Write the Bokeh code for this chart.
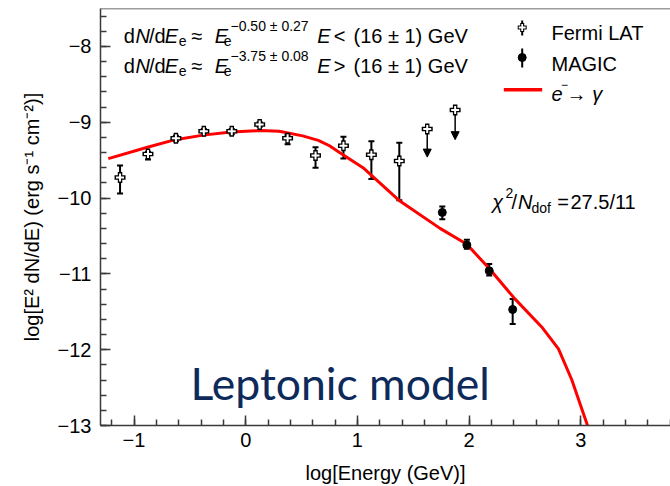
import numpy as np
from bokeh.plotting import figure
from bokeh.models import (ColumnDataSource, Label, Span, Whisker, TeeHead, Arrow,
                          NormalHead, FixedTicker, Range1d, CustomJSTickFormatter)
from bokeh.embed import file_html
from bokeh.resources import INLINE

# ---------------- data ----------------
fermi_x = [-1.125, -0.875, -0.625, -0.375, -0.125, 0.125, 0.375, 0.625, 0.875, 1.125, 1.375]
fermi_y = [-9.73, -9.42, -9.21, -9.12, -9.12, -9.03, -9.21, -9.44, -9.31, -9.43, -9.51]
fermi_lo = [-9.94, -9.49, -9.25, -9.16, -9.16, -9.06, -9.29, -9.60, -9.48, -9.75, -10.03]
fermi_hi = [-9.57, -9.39, -9.18, -9.09, -9.09, -9.00, -9.17, -9.33, -9.19, -9.25, -9.27]

ul_x = [1.625, 1.875]
ul_y = [-9.09, -8.84]
ul_end = [-9.46, -9.23]

magic_x = [1.76, 1.98, 2.18, 2.39]
magic_y = [-10.19, -10.62, -10.96, -11.47]
magic_lo = [-10.28, -10.67, -11.02, -11.66]
magic_hi = [-10.11, -10.55, -10.87, -11.33]

model_x = [-1.23, -0.88, -0.63, -0.38, -0.13, 0.13, 0.30, 0.51, 0.65, 0.75, 0.84, 1.05,
           1.38, 1.74, 1.98, 2.18, 2.41, 2.65, 2.80, 2.92, 3.06, 3.09]
model_y = [-9.48, -9.33, -9.23, -9.17, -9.13, -9.11, -9.12, -9.18, -9.24, -9.31, -9.40, -9.60,
           -10.04, -10.40, -10.61, -10.93, -11.33, -11.70, -11.99, -12.40, -13.0, -13.12]

x_major_ticks = [-1, 0, 1, 2, 3]
y_major_ticks = [-13, -12, -11, -10, -9, -8]

X_RANGE = (-1.3, 3.803)
Y_RANGE = (-13.0, -7.5)

# ---------------- geometry helpers (picture pixel -> data) ----------------
FRAME_LEFT = 100.0
FRAME_TOP = 8.0
FRAME_W = 570.0
FRAME_H = 417.0


def wx(px):
    return X_RANGE[0] + (px - FRAME_LEFT) * (X_RANGE[1] - X_RANGE[0]) / FRAME_W


def wy(py):
    return Y_RANGE[1] - (py - FRAME_TOP) * (Y_RANGE[1] - Y_RANGE[0]) / FRAME_H


FONT = "Liberation Sans"
AXIS_COL = "#3a3a3a"

p = figure(width=670, height=486, x_range=Range1d(*X_RANGE), y_range=Range1d(*Y_RANGE),
           output_backend="svg", toolbar_location=None,
           min_border_left=100, min_border_right=0, min_border_top=8, min_border_bottom=61)
p.grid.visible = False
p.outline_line_color = None
p.background_fill_color = "white"
p.border_fill_color = "white"

fmt = CustomJSTickFormatter(code="return String(tick).replace('-', '\\u2212');")

p.xaxis.ticker = FixedTicker(ticks=x_major_ticks,
                             minor_ticks=[round(-1.2 + 0.2 * i, 2) for i in range(26)])
p.yaxis.ticker = FixedTicker(ticks=y_major_ticks,
                             minor_ticks=[round(-13 + 0.2 * i, 2) for i in range(28)])
for ax in (p.xaxis[0], p.yaxis[0]):
    ax.formatter = fmt
    ax.axis_line_color = AXIS_COL
    ax.axis_line_width = 1.5
    ax.major_tick_line_color = AXIS_COL
    ax.minor_tick_line_color = AXIS_COL
    ax.major_tick_line_width = 1.5
    ax.minor_tick_line_width = 1.5
    ax.major_tick_in = 10
    ax.major_tick_out = 0
    ax.minor_tick_in = 6
    ax.minor_tick_out = 0
    ax.major_label_text_font = FONT
    ax.major_label_text_font_size = "20px"
    ax.major_label_text_color = "black"
    ax.axis_label_text_font = FONT
    ax.axis_label_text_font_size = "20px"
    ax.axis_label_text_font_style = "normal"
    ax.axis_label_text_color = "black"
p.xaxis.major_label_standoff = 7
p.yaxis.major_label_standoff = 9
p.xaxis.axis_label = "log[Energy (GeV)]"
p.xaxis.axis_label_standoff = 12
p.yaxis.axis_label = "log[E\u00b2 dN/dE) (erg s\u207b\u00b9 cm\u207b\u00b2)]"
p.yaxis.axis_label_standoff = 12

p.add_layout(Span(location=Y_RANGE[1], dimension="width", line_color=AXIS_COL, line_width=1.5))

# ---------------- model curve ----------------
p.line(model_x, model_y, line_color="#ff0000", line_width=3)

# ---------------- Fermi LAT ----------------
fsrc = ColumnDataSource(dict(x=fermi_x, y=fermi_y, lo=fermi_lo, hi=fermi_hi))
p.add_layout(Whisker(source=fsrc, base="x", lower="lo", upper="hi", dimension="height",
                     line_color="black", line_width=2,
                     lower_head=TeeHead(size=6, line_width=2, line_color="black"),
                     upper_head=TeeHead(size=6, line_width=2, line_color="black")))

usrc = ColumnDataSource(dict(x=ul_x, y=ul_y, end=ul_end))
arr = Arrow(source=usrc, x_start="x", y_start="y", x_end="x", y_end="end",
            line_color="black", line_width=1.5,
            end=NormalHead(size=8, fill_color="black", line_color="black", line_width=1))
arr.level = "underlay"
p.add_layout(arr)

for src in (fsrc, usrc):
    p.scatter("x", "y", source=src, marker="cross", size=11, line_width=4.5, line_color="black")
    p.scatter("x", "y", source=src, marker="cross", size=8, line_width=2, line_color="white")

# ---------------- MAGIC ----------------
msrc = ColumnDataSource(dict(x=magic_x, y=magic_y, lo=magic_lo, hi=magic_hi))
p.add_layout(Whisker(source=msrc, base="x", lower="lo", upper="hi", dimension="height",
                     line_color="black", line_width=2,
                     lower_head=TeeHead(size=6, line_width=2, line_color="black"),
                     upper_head=TeeHead(size=6, line_width=2, line_color="black")))
p.scatter("x", "y", source=msrc, marker="circle", size=8, fill_color="black", line_color="black")


# ---------------- texts ----------------
def run(text, px, py, size=20, italic=False, color="black", font=FONT, align="left",
        baseline="alphabetic"):
    p.add_layout(Label(x=wx(px), y=wy(py), text=text, text_font=font,
                       text_font_size=f"{size}px", text_font_style="italic" if italic else "normal",
                       text_color=color, text_align=align, text_baseline=baseline))


def formula(py, sup, rel):
    run("d", 123.3, py)
    run("N", 135, py, italic=True)
    run("/d", 148.5, py)
    run("E", 164.3, py, italic=True)
    run("e", 178.3, py + 5.7, size=14)
    run("\u2248", 191, py)
    run("E", 214.3, py, italic=True)
    run("e", 223.3, py + 5.7, size=14)
    run(sup, 230, py - 10, size=14)
    run("E", 316.7, py, italic=True)
    run(rel, 333.3, py)
    run("(16 \u00b1 1) GeV", 353, py)


formula(35, "\u22120.50 \u00b1 0.27", "<")
formula(65, "\u22123.75 \u00b1 0.08", ">")

# legend
LX = 521.7
p.segment(x0=[wx(LX)], y0=[wy(20)], x1=[wx(LX)], y1=[wy(35)], line_color="black", line_width=2)
p.scatter([wx(LX)], [wy(27)], marker="cross", size=9, line_width=4, line_color="black")
p.scatter([wx(LX)], [wy(27)], marker="cross", size=7, line_width=1.8, line_color="white")
run("Fermi LAT", 551, 32.7)
p.segment(x0=[wx(LX)], y0=[wy(48)], x1=[wx(LX)], y1=[wy(67)], line_color="black", line_width=2)
p.scatter([wx(LX)], [wy(57)], marker="circle", size=8, fill_color="black", line_color="black")
run("MAGIC", 551, 63.3)
p.segment(x0=[wx(503.3)], y0=[wy(89.3)], x1=[wx(541.7)], y1=[wy(89.3)], line_color="#ff0000",
          line_width=3.5)
run("e", 551, 93.3, italic=True)
run("\u2212", 560.5, 84, size=12)
run("\u2192", 566, 93.3)
run("\u03b3", 591.7, 93.3, italic=True)

# chi2
run("\u03c7", 491.7, 201.7, italic=True)
run("2", 505, 192.3, size=14)
run("/", 511, 201.7)
run("N", 517.5, 201.7, italic=True)
run("dof", 531, 207, size=14)
run("=", 556.7, 201.7)
run("27.5/11", 570, 201.7)

# slide overlay
run("Leptonic model", 190, 381.7, size=44.5, color="#0d2a5a", font="Lato")

open("out.html", "w").write(file_html(p, INLINE))
